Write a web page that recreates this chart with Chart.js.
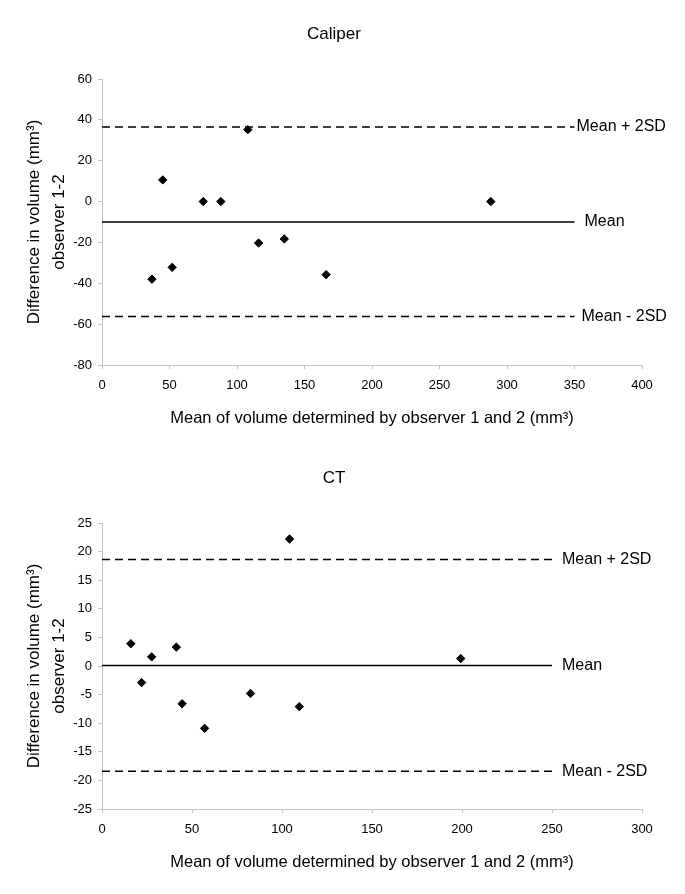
<!DOCTYPE html>
<html>
<head>
<meta charset="utf-8">
<title>Bland-Altman plots</title>
<script src="https://cdn.jsdelivr.net/npm/chart.js@4.4.1/dist/chart.umd.min.js"></script>
<style>
  html, body { margin: 0; padding: 0; background: #fff; }
  body { width: 685px; height: 894px; position: relative; overflow: hidden; }
  canvas { position: absolute; left: 0; }
  #caliperChart { top: 0; }
  #ctChart { top: 444px; }
</style>
</head>
<body>
<canvas id="caliperChart" width="685" height="447"></canvas>
<canvas id="ctChart" width="685" height="447"></canvas>
<script>
// Caliper: mean of both observers vs. difference (observer 1 - 2)
const caliperMean = [37, 45, 52, 75, 88, 108, 116, 135, 166, 288];
const caliperDiff = [-38, 10.6, -32.2, 0, 0, 35.2, -20.3, -18.3, -35.8, 0];
const caliperLimits = [36.5, -10, -56.3]; // mean + 2SD, mean, mean - 2SD
const caliperXAxis = [0, 400, 50];        // min, max, step
const caliperYAxis = [-80, 60, 20];
const caliperLineEnd = 350;

// CT
const ctMean = [16, 22, 27.6, 41.3, 44.5, 57, 82.5, 104.2, 109.6, 199.3];
const ctDiff = [3.9, -2.9, 1.6, 3.3, -6.6, -10.9, -4.8, 22.2, -7.1, 1.3];
const ctLimits = [18.6, 0.1, -18.4];
const ctXAxis = [0, 300, 50];
const ctYAxis = [-25, 25, 5];
const ctLineEnd = 250;

const limitLabels = ['Mean + 2SD', 'Mean', 'Mean - 2SD'];

Chart.defaults.font.family = '"Liberation Sans", Arial, sans-serif';
Chart.defaults.color = '#000';

// writes "Mean", "Mean + 2SD" ... just right of where each line stops
const limitLabelPlugin = {
    id: 'limitLabels',
    afterDatasetsDraw(chart, args, opts) {
        const { ctx, scales: { x, y } } = chart;
        ctx.save();
        ctx.font = '16px "Liberation Sans", Arial, sans-serif';
        ctx.fillStyle = '#000';
        ctx.textAlign = 'left';
        ctx.textBaseline = 'middle';
        opts.values.forEach((v, i) => {
            ctx.fillText(limitLabels[i], x.getPixelForValue(opts.end) + opts.gaps[i], y.getPixelForValue(v));
        });
        ctx.restore();
    }
};

// chart title, sits a bit left of the plot centre like the original
const plotTitlePlugin = {
    id: 'plotTitle',
    afterDraw(chart, args, opts) {
        const { ctx } = chart;
        ctx.save();
        ctx.font = '17px "Liberation Sans", Arial, sans-serif';
        ctx.fillStyle = '#000';
        ctx.textAlign = 'center';
        ctx.textBaseline = 'middle';
        ctx.fillText(opts.text, 334, 34);
        ctx.restore();
    }
};

function limitDatasets(limits, end) {
    return limits.map((v, i) => ({
        data: [{ x: 0, y: v }, { x: end, y: v }],
        showLine: true,
        borderColor: '#000',
        borderWidth: 1.5,
        borderDash: i === 1 ? [] : [8, 5],
        pointRadius: 0,
    }));
}

function plotBlandAltman(canvasId, title, means, diffs, limits, lineEnd, xAxis, yAxis, gaps) {
    const ctx = document.getElementById(canvasId).getContext('2d');
    const axisGrey = '#c4c4c4';
    new Chart(ctx, {
        type: 'scatter',
        data: {
            datasets: [
                {
                    data: means.map((m, i) => ({ x: m, y: diffs[i] })),
                    pointStyle: 'rectRot',
                    pointRadius: 4.2,
                    backgroundColor: '#000',
                    borderColor: '#000',
                    borderWidth: 1,
                },
                ...limitDatasets(limits, lineEnd),
            ],
        },
        options: {
            responsive: false,
            animation: false,
            layout: { padding: { top: 79, right: 43 } },
            plugins: {
                legend: { display: false },
                tooltip: { enabled: false },
                title: { display: false },
                plotTitle: { text: title },
                limitLabels: { values: limits, end: lineEnd, gaps },
            },
            scales: {
                x: {
                    type: 'linear',
                    min: xAxis[0],
                    max: xAxis[1],
                    ticks: { stepSize: xAxis[2], padding: 9, font: { size: 13 }, color: '#000' },
                    grid: { drawOnChartArea: false, tickLength: 4, color: axisGrey },
                    border: { color: axisGrey },
                    title: {
                        display: true,
                        text: 'Mean of volume determined by observer 1 and 2 (mm³)',
                        font: { size: 16.5 },
                        color: '#000',
                        padding: { top: 0, bottom: 19 },
                    },
                    afterFit(scale) { scale.height = 82; },
                },
                y: {
                    min: yAxis[0],
                    max: yAxis[1],
                    ticks: { stepSize: yAxis[2], padding: 6, font: { size: 13 }, color: '#000' },
                    grid: { drawOnChartArea: false, tickLength: 4, color: axisGrey },
                    border: { color: axisGrey },
                    title: {
                        display: true,
                        text: ['Difference in volume (mm³)', 'observer 1-2'],
                        font: { size: 17, lineHeight: 1.47 },
                        color: '#000',
                        padding: { top: 21.5, bottom: 0 },
                    },
                    afterFit(scale) { scale.width = 102; },
                },
            },
        },
        plugins: [limitLabelPlugin, plotTitlePlugin],
    });
}

plotBlandAltman('caliperChart', 'Caliper', caliperMean, caliperDiff, caliperLimits, caliperLineEnd,
    caliperXAxis, caliperYAxis, [2, 10, 7]);
plotBlandAltman('ctChart', 'CT', ctMean, ctDiff, ctLimits, ctLineEnd,
    ctXAxis, ctYAxis, [10, 10, 10]);
</script>
</body>
</html>
